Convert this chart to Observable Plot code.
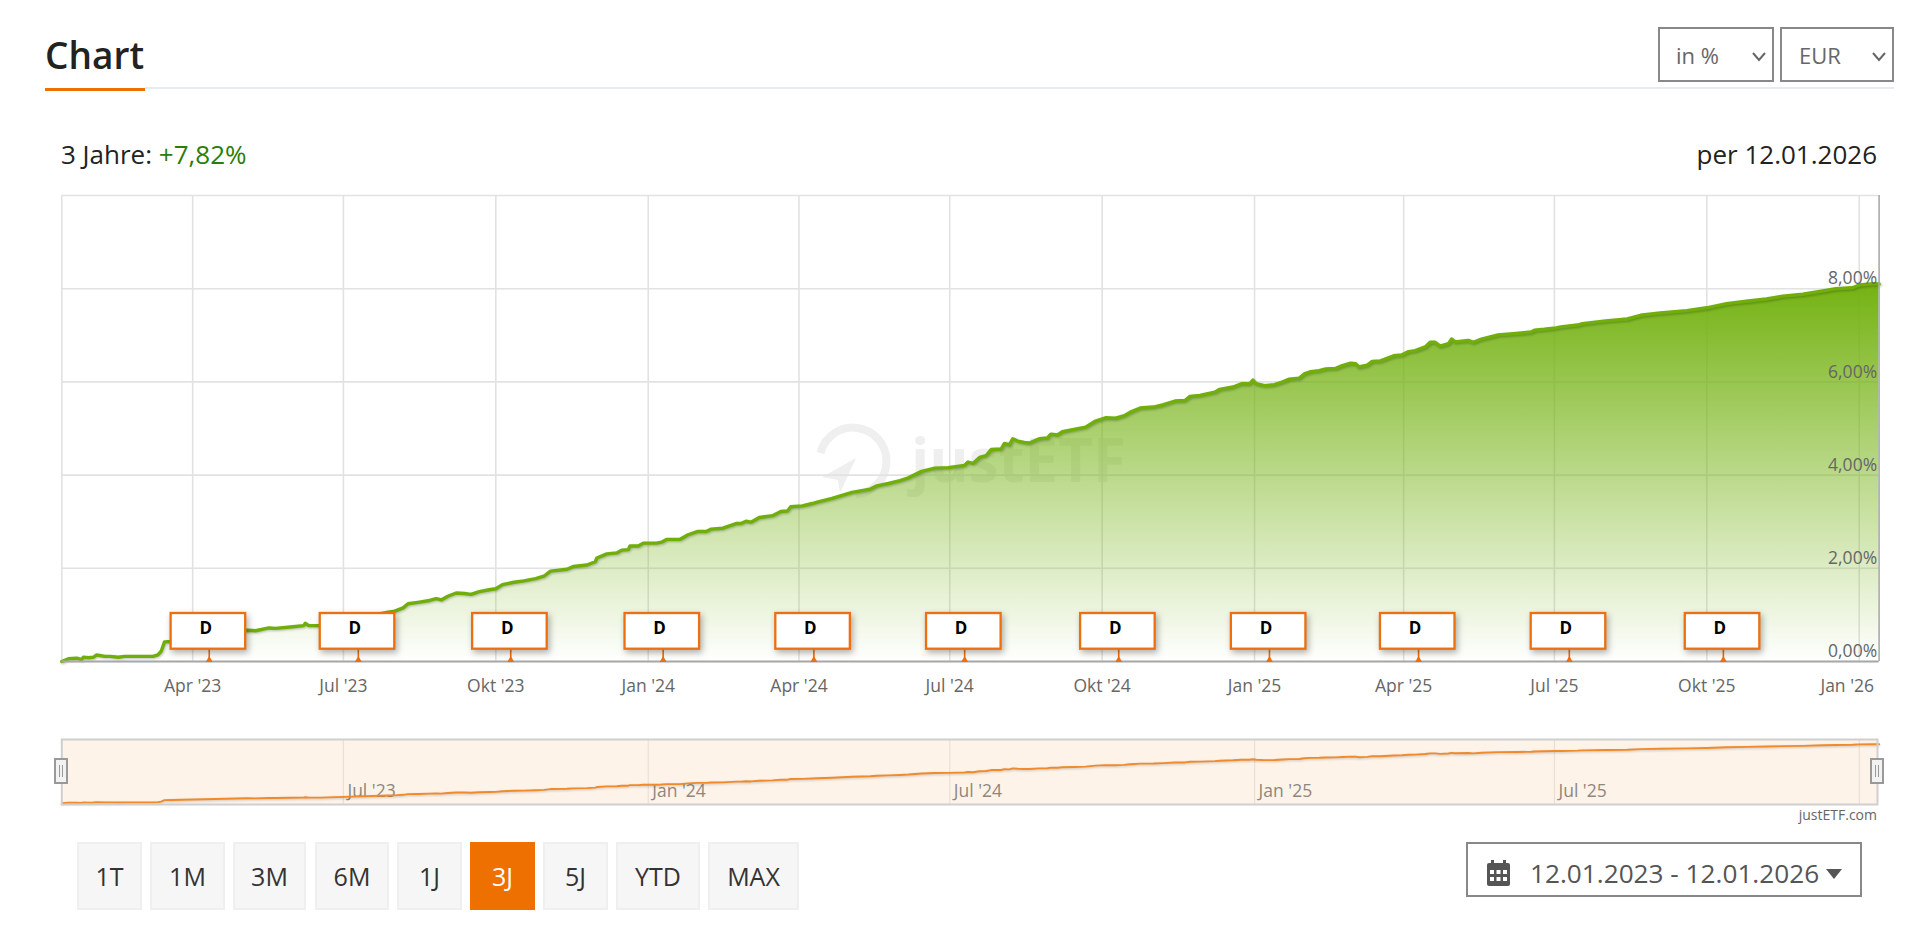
<!DOCTYPE html>
<html lang="de">
<head>
<meta charset="utf-8">
<title>Chart</title>
<script src="https://cdn.jsdelivr.net/npm/d3@7"></script>
<script src="https://cdn.jsdelivr.net/npm/@observablehq/plot@0.6"></script>
<style>
html,body{margin:0;padding:0;background:#fff;width:1920px;height:937px;overflow:hidden;font-family:"Open Sans",sans-serif;}
.abs{position:absolute;white-space:nowrap;box-sizing:border-box;}
.plot{position:absolute;left:0;}
.plot svg,svg.plotsvg{display:block;background:transparent;}
.sel{border:2px solid #888;color:#666;font-size:22px;display:flex;align-items:center;}
.btn{background:#f6f6f6;border:2px solid #efefef;color:#333;font-size:25px;display:flex;align-items:center;justify-content:center;top:842px;height:68px;}
.btn.on{background:#ee7100;border-color:#ee7100;color:#fff;}
.handle{background:#f2f2f2;border:2px solid #999;width:14px;height:26px;top:758px;}
.handle:after{content:"";position:absolute;left:3px;top:5px;width:2px;height:12px;border-left:1px solid #999;border-right:1px solid #999;}
</style>
</head>
<body>
<div class="abs" style="left:45px;top:30px;font-size:37px;font-weight:600;color:#222;line-height:50px;">Chart</div>
<div class="abs" style="left:145px;top:87px;width:1749px;height:2px;background:#e6ebf2;"></div>
<div class="abs" style="left:45px;top:87.5px;width:100px;height:3px;background:#ee7100;"></div>

<div class="abs sel" style="left:1658px;top:27px;width:116px;height:55px;padding-left:16px;">in %
  <svg class="abs" style="left:91px;top:21px" width="16" height="14"><polyline points="2,3 8,10 14,3" fill="none" stroke="#666" stroke-width="2"/></svg></div>
<div class="abs sel" style="left:1780px;top:27px;width:114px;height:55px;padding-left:17px;">EUR
  <svg class="abs" style="left:89px;top:21px" width="16" height="14"><polyline points="2,3 8,10 14,3" fill="none" stroke="#666" stroke-width="2"/></svg></div>

<div class="abs" style="left:61px;top:136px;font-size:26px;line-height:36px;color:#222;">3 Jahre: <span style="color:#2c7d06">+7,82%</span></div>
<div class="abs" style="right:43px;top:136px;font-size:26px;line-height:36px;color:#222;">per 12.01.2026</div>

<!-- watermark behind the plot -->
<svg class="abs" style="left:800px;top:410px" width="340" height="100">
  <path d="M 20.5 43 A 33.5 33.5 0 1 1 56 84.5" fill="none" stroke="#efefef" stroke-width="8"/>
  <polygon points="56,48 22,67 38,70 40,83" fill="#efefef"/>
  <text x="111" y="72" font-family="Open Sans" font-weight="700" font-size="60" fill="#efefef">justETF</text>
</svg>

<div id="main" class="plot" style="top:180px"></div>
<div id="nav" class="plot" style="top:735px"></div>

<div class="abs handle" style="left:54px"></div>
<div class="abs handle" style="left:1870px"></div>
<div class="abs" style="right:43px;top:805px;font-size:14px;line-height:20px;color:#666;">justETF.com</div>

<div id="btns"></div>

<div class="abs" style="left:1466px;top:842px;width:396px;height:55px;border:2px solid #888;"></div>
<svg class="abs" style="left:1487px;top:860px" width="23" height="26">
  <rect x="0" y="3" width="23" height="23" rx="2" fill="#555"/>
  <rect x="4" y="0" width="3" height="6" fill="#555"/><rect x="16" y="0" width="3" height="6" fill="#555"/>
  <g fill="#fff"><rect x="3" y="10" width="4" height="4"/><rect x="9.5" y="10" width="4" height="4"/><rect x="16" y="10" width="4" height="4"/>
  <rect x="3" y="17" width="4" height="4"/><rect x="9.5" y="17" width="4" height="4"/><rect x="16" y="17" width="4" height="4"/></g>
</svg>
<div class="abs" style="left:1530px;top:855px;font-size:26.2px;line-height:36px;color:#555;">12.01.2023 - 12.01.2026</div>
<svg class="abs" style="left:1826px;top:869px" width="16" height="10"><polygon points="0,0 16,0 8,10" fill="#555"/></svg>

<script>
// Performance series: days since the start date, value in percent
const startDate = "2023-01-12";
const endDate = "2026-01-12";
const days = [0,4,9,12,13,16,19,21,26,29,34,38,46,55,58,60,62,66,112,117,125,129,138,146,147,149,156,197,201,206,209,215,222,226,229,233,238,243,247,252,258,262,266,273,279,286,291,295,305,309,317,322,323,329,335,338,342,343,348,351,359,362,365,373,378,384,389,392,399,407,410,413,416,421,429,434,438,440,447,453,456,465,477,488,492,499,506,511,519,527,535,545,547,550,554,558,561,567,569,572,574,577,581,584,590,595,597,601,604,611,618,624,630,636,641,645,651,659,665,672,678,681,687,696,699,707,712,717,719,721,726,732,737,741,747,750,754,759,763,769,773,778,781,783,788,791,796,804,809,813,817,823,826,829,832,837,839,841,849,852,857,867,878,887,889,895,902,905,915,918,932,945,953,965,981,993,1005,1017,1029,1039,1051,1063,1071,1081,1085,1094,1097];
const values = [0,0.06,0.07,0.04,0.09,0.08,0.09,0.14,0.11,0.11,0.09,0.11,0.11,0.11,0.14,0.22,0.42,0.43,0.67,0.66,0.72,0.71,0.74,0.77,0.82,0.77,0.77,1.06,1.08,1.15,1.24,1.27,1.31,1.35,1.32,1.40,1.47,1.46,1.44,1.50,1.54,1.56,1.65,1.70,1.73,1.78,1.83,1.94,1.98,2.04,2.07,2.14,2.22,2.31,2.33,2.39,2.40,2.48,2.48,2.54,2.54,2.56,2.62,2.62,2.72,2.79,2.79,2.84,2.86,2.96,2.96,3.01,2.99,3.09,3.13,3.22,3.23,3.32,3.34,3.39,3.42,3.50,3.63,3.70,3.77,3.82,3.88,3.94,4.08,4.15,4.16,4.21,4.28,4.25,4.38,4.42,4.55,4.56,4.68,4.65,4.78,4.73,4.70,4.69,4.78,4.80,4.88,4.86,4.93,4.98,5.03,5.16,5.23,5.22,5.27,5.35,5.44,5.46,5.51,5.59,5.60,5.69,5.71,5.78,5.84,5.89,5.96,5.96,6.04,5.96,5.92,5.94,6.00,6.06,6.08,6.17,6.22,6.24,6.28,6.29,6.35,6.40,6.39,6.32,6.36,6.44,6.45,6.56,6.58,6.65,6.67,6.75,6.85,6.85,6.77,6.82,6.92,6.86,6.89,6.85,6.92,7.01,7.04,7.07,7.11,7.13,7.16,7.18,7.22,7.25,7.31,7.35,7.43,7.48,7.53,7.59,7.68,7.73,7.78,7.84,7.88,7.95,8.00,8.02,8.08,8.11,8.10];

const xTickDates = ["2023-04-01","2023-07-01","2023-10-01","2024-01-01","2024-04-01","2024-07-01","2024-10-01","2025-01-01","2025-04-01","2025-07-01","2025-10-01","2026-01-01"];
const xTickLabels = ["Apr '23","Jul '23","Okt '23","Jan '24","Apr '24","Jul '24","Okt '24","Jan '25","Apr '25","Jul '25","Okt '25","Jan '26"];
const yTicks = [0,2,4,6,8];
const yGrid = [0,2,4,6,8,10];
const navTickDates = ["2023-07-01","2024-01-01","2024-07-01","2025-01-01","2025-07-01"];
const navTickLabels = ["Jul '23","Jan '24","Jul '24","Jan '25","Jul '25"];
const navExtraGrid = ["2026-01-01"];
const dividendDates = ["2023-04-11","2023-07-10","2023-10-10","2024-01-10","2024-04-10","2024-07-10","2024-10-11","2025-01-10","2025-04-10","2025-07-10","2025-10-11"];
const rangeButtons = ["1T","1M","3M","6M","1J","3J","5J","YTD","MAX"];

const buttonLeft = [77,150,233,315,397,470,543,616,708];
const buttonWidth = [65,75,73,74,65,65,65,84,91];
const btnHost = document.getElementById("btns");
rangeButtons.forEach((t,i)=>{
  const b=document.createElement("div");
  b.className="abs btn"+(t==="3J"?" on":"");
  b.style.left=buttonLeft[i]+"px"; b.style.width=buttonWidth[i]+"px"; b.textContent=t;
  btnHost.appendChild(b);
});

const D = s => new Date(s+"T00:00:00Z");
const start = D(startDate), end = D(endDate), edge = d3.utcDay.offset(end,1);
const series = days.map((n,i)=>({date:d3.utcDay.offset(start,n), value:values[i]}));
const xTicks = xTickDates.map(D);
const labelOf = new Map(xTicks.map((d,i)=>[+d,xTickLabels[i]]));
const dividends = dividendDates.map(D);
const navTicks = navTickDates.map(D);
const navLabelOf = new Map(navTicks.map((d,i)=>[+d,navTickLabels[i]]));
const GRID="#e2e2e2", ORANGE="#ee6f0e", GREEN="#70ae0a";
const axisFont = {fontSize:17.5, fill:"#666"};

const gradient = () => {
  const defs = d3.create("svg:defs");
  const g = defs.append("linearGradient").attr("id","areaFade").attr("x1",0).attr("y1",0).attr("x2",0).attr("y2",1);
  g.append("stop").attr("offset","0%").attr("stop-color","#74b212").attr("stop-opacity",1);
  g.append("stop").attr("offset","100%").attr("stop-color","#74b212").attr("stop-opacity",0);
  return defs.node();
};

const main = Plot.plot({
  width:1920, height:520,
  marginLeft:61.3, marginRight:41.4, marginTop:15, marginBottom:39,
  style:{background:"transparent", fontFamily:"'Open Sans',sans-serif", overflow:"visible"},
  x:{type:"utc", domain:[start,edge]},
  y:{domain:[0,10], label:null},
  marks:[
    gradient,
    Plot.ruleX(xTicks,{stroke:GRID,strokeWidth:1.6}),
    Plot.ruleY(yGrid,{stroke:GRID,strokeWidth:1.6}),
    Plot.ruleX([start],{stroke:GRID,strokeWidth:1.6}),
    Plot.areaY(series,{x:"date",y:"value",fill:"url(#areaFade)"}),
    Plot.line(series,{x:"date",y:"value",stroke:GREEN,strokeWidth:3.4,strokeLinejoin:"round",imageFilter:"drop-shadow(1px 1px 1px rgba(0,0,0,.25))"}),
    Plot.ruleX([edge],{stroke:"#aaa",strokeWidth:1.6}),
    Plot.ruleY([0],{stroke:"#a8a8a8",strokeWidth:1.8}),
    Plot.ruleX(dividends,{y1:()=>0,y2:()=>0.27,stroke:ORANGE,strokeWidth:1.6}),
    Plot.dot(dividends,{x:d=>d,y:()=>0.03,symbol:"triangle",r:2.6,fill:ORANGE}),
    Plot.rect(dividends,{
      x1:d=>d3.utcDay.offset(d,-23), x2:d=>d3.utcDay.offset(d,22.5),
      y1:()=>0.264, y2:()=>1.03,
      fill:"#fff", stroke:ORANGE, strokeWidth:2.3,
      imageFilter:"drop-shadow(2px 3px 3px rgba(0,0,0,.3))"
    }),
    Plot.text(dividends,{x:d=>d,y:()=>0.70,text:()=>"D",dx:-3.5,fontSize:17,fontWeight:700,fill:"#000"}),
    Plot.axisX(xTicks.slice(0,-1),{anchor:"bottom",tickSize:0,tickPadding:18,tickFormat:d=>labelOf.get(+d),...axisFont}),
    Plot.axisX(xTicks.slice(-1),{anchor:"bottom",tickSize:0,tickPadding:18,dx:-12,tickFormat:d=>labelOf.get(+d),...axisFont}),
    Plot.axisY(yTicks,{anchor:"right",tickSize:0,tickPadding:0,textAnchor:"end",dx:-2,dy:-10,tickFormat:d=>d.toFixed(2).replace(".",",")+"%",...axisFont})
  ]
});
document.getElementById("main").appendChild(main);

const nav = Plot.plot({
  width:1920, height:75,
  marginLeft:61.3, marginRight:43, marginTop:4, marginBottom:6,
  style:{background:"transparent", fontFamily:"'Open Sans',sans-serif", overflow:"visible"},
  x:{type:"utc", domain:[start,end]},
  y:{domain:[-0.18,8.75], axis:null},
  marks:[
    Plot.frame({fill:"#fdf3e9",stroke:"none"}),
    Plot.ruleX([...navTicks,...navExtraGrid.map(D)],{stroke:"#e8e0d6",strokeWidth:1.2}),
    Plot.axisX(navTicks,{anchor:"bottom",tickSize:0,tickPadding:0,textAnchor:"start",dx:4,dy:-20,tickFormat:d=>navLabelOf.get(+d),fontSize:17.5,fill:"#8f877d"}),
    Plot.line(series,{x:"date",y:"value",stroke:"#f08a2a",strokeWidth:1.9,imageFilter:"drop-shadow(0 1.5px 1px rgba(0,0,0,.2))"}),
    Plot.frame({stroke:"#cfcfcf",strokeWidth:2})
  ]
});
document.getElementById("nav").appendChild(nav);
</script>
</body>
</html>
